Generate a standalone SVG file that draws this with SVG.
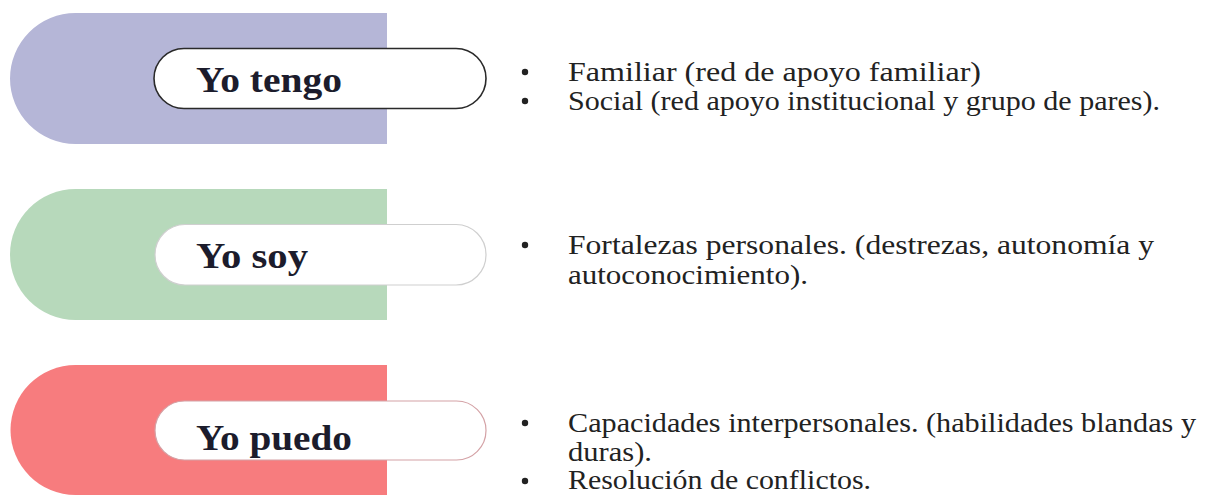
<svg xmlns="http://www.w3.org/2000/svg" width="1207" height="496" viewBox="0 0 1207 496">
<style>
.label{font-family:"Times New Roman","Liberation Serif",Tinos,serif;font-weight:bold;font-size:36px;fill:#1c1c2c}
.body{font-family:"Times New Roman","Liberation Serif",Tinos,serif;font-size:28px;fill:#222}
.bullet{fill:#222}
.pill{fill:#fff}
</style>
<rect width="1207" height="496" fill="#fff"/>
<g id="node-tengo">
<path d="M75.5,13 H387 V144 H75.5 A65.5,65.5 0 0 1 75.5,13 Z" fill="#b5b6d7"/>
<rect class="pill" x="154" y="48.5" width="332" height="60" rx="30" stroke="#2a2a2a" stroke-width="1.6"/>
<text class="label" x="196" y="92" textLength="146" lengthAdjust="spacingAndGlyphs">Yo tengo</text>
</g>
<g id="node-soy">
<path d="M75.5,189 H387 V320 H75.5 A65.5,65.5 0 0 1 75.5,189 Z" fill="#b7d9bb"/>
<rect class="pill" x="155" y="224.5" width="331" height="60.5" rx="30" stroke="#cfcfcf" stroke-width="1.2"/>
<text class="label" x="196" y="268" textLength="112" lengthAdjust="spacingAndGlyphs">Yo soy</text>
</g>
<g id="node-puedo">
<path d="M75.5,365 H387 V495 H75.5 A65,65 0 0 1 75.5,365 Z" fill="#f77c7e"/>
<rect class="pill" x="155" y="401" width="331" height="59" rx="29.5" stroke="#d4a2a6" stroke-width="1.2"/>
<text class="label" x="196" y="450" textLength="156" lengthAdjust="spacingAndGlyphs">Yo puedo</text>
</g>
<g id="text-tengo">
<circle class="bullet" cx="525" cy="72" r="3.2"/>
<text class="body" x="568" y="81" textLength="413" lengthAdjust="spacingAndGlyphs">Familiar (red de apoyo familiar)</text>
<circle class="bullet" cx="525" cy="101" r="3.2"/>
<text class="body" x="568" y="110" textLength="592" lengthAdjust="spacingAndGlyphs">Social (red apoyo institucional y grupo de pares).</text>
</g>
<g id="text-soy">
<circle class="bullet" cx="525" cy="245" r="3.2"/>
<text class="body" x="568" y="254" textLength="586" lengthAdjust="spacingAndGlyphs">Fortalezas personales. (destrezas, autonomía y</text>
<text class="body" x="568" y="284" textLength="240" lengthAdjust="spacingAndGlyphs">autoconocimiento).</text>
</g>
<g id="text-puedo">
<circle class="bullet" cx="525" cy="423" r="3.2"/>
<text class="body" x="568" y="432" textLength="628" lengthAdjust="spacingAndGlyphs">Capacidades interpersonales. (habilidades blandas y</text>
<text class="body" x="568" y="461" textLength="84" lengthAdjust="spacingAndGlyphs">duras).</text>
<circle class="bullet" cx="525" cy="481" r="3.2"/>
<text class="body" x="568" y="489" textLength="303" lengthAdjust="spacingAndGlyphs">Resolución de conflictos.</text>
</g>
<g id="connectors"></g>
</svg>
